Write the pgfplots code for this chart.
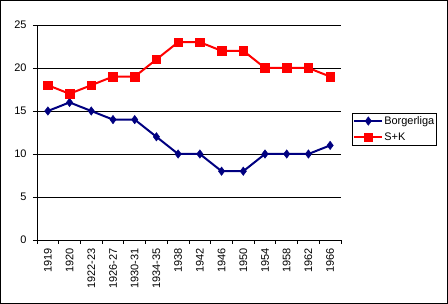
\documentclass[border=0pt]{standalone}
\usepackage{pgfplots}
\pgfplotsset{compat=1.18}
\usepackage{fontspec}
\setmainfont{Liberation Sans}
\definecolor{navy}{RGB}{0,0,128}
\definecolor{skred}{RGB}{255,0,0}
\begin{document}
\begin{tikzpicture}
\begin{axis}[
  at={(0bp,0bp)}, anchor=south west,
  scale only axis, width=304bp, height=215bp,
  xmin=-0.5, xmax=13.5, ymin=0, ymax=25,
  axis x line=bottom, axis y line=left,
  axis line style={-, black, line width=0.8bp},
  ytick={0,5,...,25},
  ymajorgrids, grid style={black, line width=0.8bp},
  xtick={0,...,13},
  xticklabels={1919,1920,1922-23,1926-27,1930-31,1934-35,1938,1942,1946,1950,1954,1958,1962,1966},
  x tick label style={rotate=90, anchor=east, font=\fontsize{11}{12}\selectfont},
  y tick label style={font=\fontsize{11}{12}\selectfont},
  /pgf/number format/assume math mode=true,
  major x tick style={draw=none},
  minor xtick={-0.5,0.5,...,13.5},
  minor tick length=4bp,
  major tick length=4bp,
  tick align=outside,
  tick style={black, line width=0.8bp},
  xticklabel shift=1bp,
  yticklabel shift=3bp,
  legend style={at={(1.036,0.591)}, anchor=north west, draw=black, line width=0.8bp,
    font=\fontsize{11}{12}\selectfont, inner xsep=1bp, inner ysep=2bp, row sep=5bp,
    nodes={inner sep=1bp},
    legend cell align=left},
  legend image code/.code={\draw[#1] (0bp,0bp) -- (28bp,0bp) plot coordinates {(14bp,0bp)};},
  clip=false,
]
\addplot[navy, line width=2bp, mark=diamond*, mark size=4.2bp, mark options={solid,line width=0.5bp}]
  coordinates {(0,15)(1,16)(2,15)(3,14)(4,14)(5,12)(6,10)(7,10)(8,8)(9,8)(10,10)(11,10)(12,10)(13,11)};
\addlegendentry{Borgerliga}
\addplot[skred, line width=2bp, mark=square*, mark size=4.3bp, mark options={solid,line width=0.5bp}]
  coordinates {(0,18)(1,17)(2,18)(3,19)(4,19)(5,21)(6,23)(7,23)(8,22)(9,22)(10,20)(11,20)(12,20)(13,19)};
\addlegendentry{S+K}
\end{axis}
\draw[black,line width=1bp] (-36.5bp,-63.5bp) rectangle (410.5bp,239.5bp);
\pgfresetboundingbox
\useasboundingbox (-37bp,-64bp) rectangle (411bp,240bp);
\end{tikzpicture}
\end{document}
